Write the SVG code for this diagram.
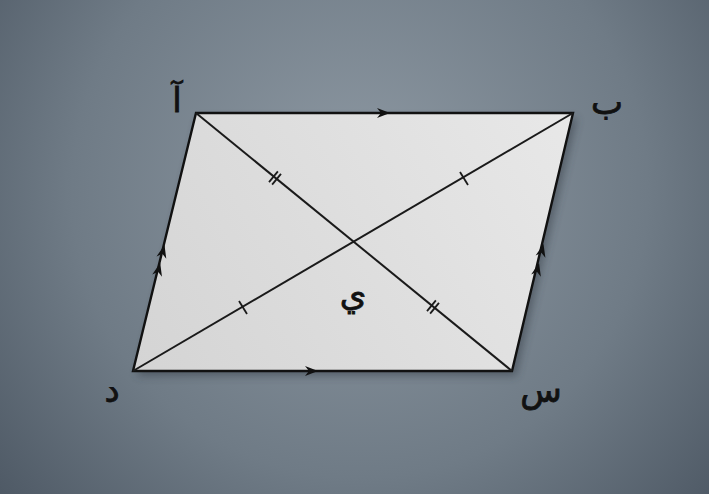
<svg xmlns="http://www.w3.org/2000/svg" width="709" height="494" viewBox="0 0 709 494">
<defs>
<radialGradient id="bg" cx="360" cy="190" r="480" gradientUnits="userSpaceOnUse">
<stop offset="0" stop-color="#8e99a3"/>
<stop offset="0.6" stop-color="#6f7b86"/>
<stop offset="1" stop-color="#4d5864"/>
</radialGradient>
<linearGradient id="fillg" x1="133" y1="371" x2="573" y2="113" gradientUnits="userSpaceOnUse">
<stop offset="0" stop-color="#d4d4d4"/>
<stop offset="1" stop-color="#e8e8e8"/>
</linearGradient>
<filter id="sh" x="-10%" y="-10%" width="120%" height="120%">
<feGaussianBlur stdDeviation="4"/>
</filter>
<path id="ah" d="M0,0 L-13,-5 L-9,0 L-13,5 Z"/>
<style>
.edge{fill:url(#fillg);stroke:#111;stroke-width:2.4;stroke-linejoin:miter}
.diag{stroke:#1a1a1a;stroke-width:2;fill:none}
.tick{stroke:#1a1a1a;stroke-width:1.8}
.arr{fill:#111}
.lbl{font-family:"DejaVu Sans",sans-serif;font-size:34px;fill:#111;text-anchor:middle;stroke:#111;stroke-width:0.8}
</style>
</defs>
<rect width="709" height="494" fill="url(#bg)"/>
<g id="shadow">
<polygon points="199,118 577,118 516,376 137,376" fill="#2a323a" opacity="0.45" filter="url(#sh)"/>
</g>
<g id="parallelogram">
<polygon points="196,113 573,113 512,371 133,371" class="edge"/>
</g>
<g id="connectors">
<line x1="196" y1="113" x2="512" y2="371" class="diag"/>
<line x1="573" y1="113" x2="133" y2="371" class="diag"/>
<line x1="460" y1="172" x2="468" y2="185" class="tick"/>
<line x1="239" y1="301" x2="247" y2="314" class="tick"/>
<g transform="translate(275,178) rotate(39.2)">
<line x1="-2" y1="-7" x2="-2" y2="7" class="tick"/>
<line x1="2" y1="-7" x2="2" y2="7" class="tick"/>
</g>
<g transform="translate(433,307) rotate(39.2)">
<line x1="-2" y1="-7" x2="-2" y2="7" class="tick"/>
<line x1="2" y1="-7" x2="2" y2="7" class="tick"/>
</g>
<use href="#ah" class="arr" transform="translate(390,113)"/>
<use href="#ah" class="arr" transform="translate(318,371)"/>
<use href="#ah" class="arr" transform="translate(164.5,245) rotate(-76.3)"/>
<use href="#ah" class="arr" transform="translate(160.2,263) rotate(-76.3)"/>
<use href="#ah" class="arr" transform="translate(543.5,244) rotate(-76.7)"/>
<use href="#ah" class="arr" transform="translate(539,263) rotate(-76.7)"/>
</g>
<g id="label-A"><text x="177" y="112" class="lbl">آ</text></g>
<g id="label-B"><text x="607" y="114" class="lbl">ب</text></g>
<g id="label-S"><text x="541" y="402" class="lbl">س</text></g>
<g id="label-D"><text x="112" y="402" class="lbl">د</text></g>
<g id="label-Y"><text x="353" y="306" class="lbl">ي</text></g>
</svg>
